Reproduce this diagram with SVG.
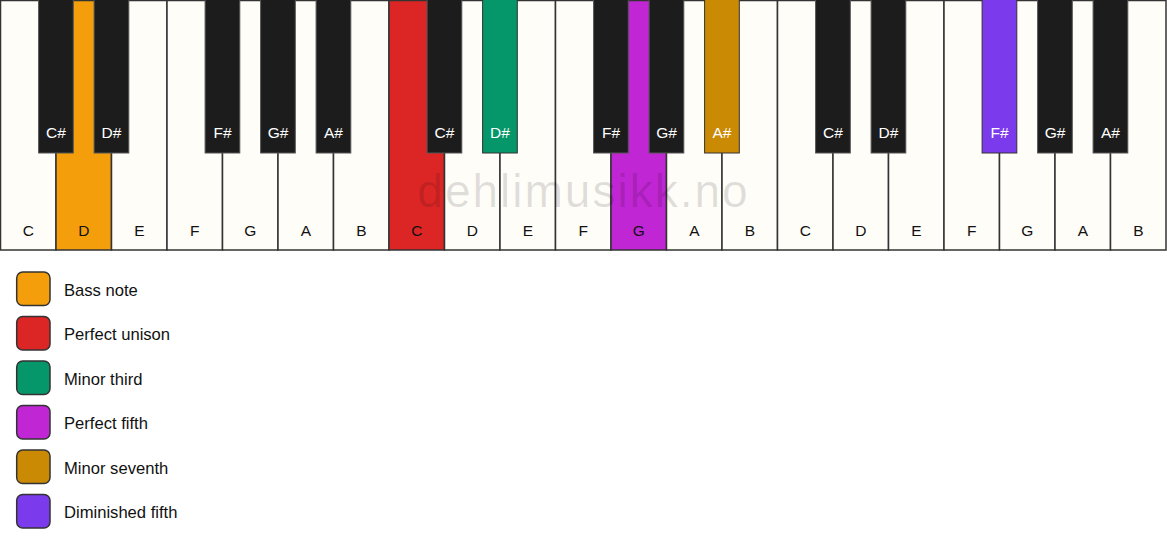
<svg xmlns="http://www.w3.org/2000/svg" width="1167" height="550" viewBox="0 0 1167 550">
<style>
.w{fill:#fffdf8;stroke:#333;stroke-width:1.5}
.b{fill:#1c1c1c;stroke:#555;stroke-width:1}
.wl{font-family:"Liberation Sans",Arial,sans-serif;font-size:15.5px;fill:#111;text-anchor:middle}
.bl{font-family:"Liberation Sans",Arial,sans-serif;font-size:15.5px;fill:#fff;text-anchor:middle}
.lg{stroke:#333;stroke-width:1.5}
.lt{font-family:"Liberation Sans",Arial,sans-serif;font-size:16.6px;fill:#111}
.wm{font-family:"Liberation Sans",Arial,sans-serif;font-size:46px;fill:#000;fill-opacity:0.12;text-anchor:middle;letter-spacing:2px}
</style>
<rect width="1167" height="550" fill="#ffffff"/>
<g id="white-keys">
<g id="w0"><rect class="w" x="0.5" y="0.5" width="55.5" height="249.5"/><text class="wl" x="28.3" y="236">C</text></g>
<g id="w1"><rect class="w" x="56" y="0.5" width="55.5" height="249.5" style="fill:#f59e0b"/><text class="wl" x="83.8" y="236">D</text></g>
<g id="w2"><rect class="w" x="111.5" y="0.5" width="55.5" height="249.5"/><text class="wl" x="139.3" y="236">E</text></g>
<g id="w3"><rect class="w" x="167" y="0.5" width="55.5" height="249.5"/><text class="wl" x="194.8" y="236">F</text></g>
<g id="w4"><rect class="w" x="222.5" y="0.5" width="55.5" height="249.5"/><text class="wl" x="250.3" y="236">G</text></g>
<g id="w5"><rect class="w" x="278" y="0.5" width="55.5" height="249.5"/><text class="wl" x="305.8" y="236">A</text></g>
<g id="w6"><rect class="w" x="333.5" y="0.5" width="55.5" height="249.5"/><text class="wl" x="361.3" y="236">B</text></g>
<g id="w7"><rect class="w" x="389" y="0.5" width="55.5" height="249.5" style="fill:#dc2626"/><text class="wl" x="416.8" y="236">C</text></g>
<g id="w8"><rect class="w" x="444.5" y="0.5" width="55.5" height="249.5"/><text class="wl" x="472.3" y="236">D</text></g>
<g id="w9"><rect class="w" x="500" y="0.5" width="55.5" height="249.5"/><text class="wl" x="527.8" y="236">E</text></g>
<g id="w10"><rect class="w" x="555.5" y="0.5" width="55.5" height="249.5"/><text class="wl" x="583.3" y="236">F</text></g>
<g id="w11"><rect class="w" x="611" y="0.5" width="55.5" height="249.5" style="fill:#c026d3"/><text class="wl" x="638.8" y="236">G</text></g>
<g id="w12"><rect class="w" x="666.5" y="0.5" width="55.5" height="249.5"/><text class="wl" x="694.3" y="236">A</text></g>
<g id="w13"><rect class="w" x="722" y="0.5" width="55.5" height="249.5"/><text class="wl" x="749.8" y="236">B</text></g>
<g id="w14"><rect class="w" x="777.5" y="0.5" width="55.5" height="249.5"/><text class="wl" x="805.3" y="236">C</text></g>
<g id="w15"><rect class="w" x="833" y="0.5" width="55.5" height="249.5"/><text class="wl" x="860.8" y="236">D</text></g>
<g id="w16"><rect class="w" x="888.5" y="0.5" width="55.5" height="249.5"/><text class="wl" x="916.3" y="236">E</text></g>
<g id="w17"><rect class="w" x="944" y="0.5" width="55.5" height="249.5"/><text class="wl" x="971.8" y="236">F</text></g>
<g id="w18"><rect class="w" x="999.5" y="0.5" width="55.5" height="249.5"/><text class="wl" x="1027.3" y="236">G</text></g>
<g id="w19"><rect class="w" x="1055" y="0.5" width="55.5" height="249.5"/><text class="wl" x="1082.8" y="236">A</text></g>
<g id="w20"><rect class="w" x="1110.5" y="0.5" width="55.5" height="249.5"/><text class="wl" x="1138.3" y="236">B</text></g>
</g>
<text class="wm" x="583.5" y="207">dehlimusikk.no</text>
<g id="black-keys">
<g id="b0"><rect class="b" x="38.6" y="-1" width="34.7" height="154"/><text class="bl" x="56" y="138">C#</text></g>
<g id="b1"><rect class="b" x="94.1" y="-1" width="34.7" height="154"/><text class="bl" x="111.5" y="138">D#</text></g>
<g id="b2"><rect class="b" x="205.1" y="-1" width="34.7" height="154"/><text class="bl" x="222.5" y="138">F#</text></g>
<g id="b3"><rect class="b" x="260.6" y="-1" width="34.7" height="154"/><text class="bl" x="278" y="138">G#</text></g>
<g id="b4"><rect class="b" x="316.1" y="-1" width="34.7" height="154"/><text class="bl" x="333.5" y="138">A#</text></g>
<g id="b5"><rect class="b" x="427.1" y="-1" width="34.7" height="154"/><text class="bl" x="444.5" y="138">C#</text></g>
<g id="b6"><rect class="b" x="482.6" y="-1" width="34.7" height="154" style="fill:#059669;stroke:#333"/><text class="bl" x="500" y="138">D#</text></g>
<g id="b7"><rect class="b" x="593.6" y="-1" width="34.7" height="154"/><text class="bl" x="611" y="138">F#</text></g>
<g id="b8"><rect class="b" x="649.1" y="-1" width="34.7" height="154"/><text class="bl" x="666.5" y="138">G#</text></g>
<g id="b9"><rect class="b" x="704.6" y="-1" width="34.7" height="154" style="fill:#ca8a04;stroke:#333"/><text class="bl" x="722" y="138">A#</text></g>
<g id="b10"><rect class="b" x="815.6" y="-1" width="34.7" height="154"/><text class="bl" x="833" y="138">C#</text></g>
<g id="b11"><rect class="b" x="871.1" y="-1" width="34.7" height="154"/><text class="bl" x="888.5" y="138">D#</text></g>
<g id="b12"><rect class="b" x="982.1" y="-1" width="34.7" height="154" style="fill:#7c3aed;stroke:#333"/><text class="bl" x="999.5" y="138">F#</text></g>
<g id="b13"><rect class="b" x="1037.6" y="-1" width="34.7" height="154"/><text class="bl" x="1055" y="138">G#</text></g>
<g id="b14"><rect class="b" x="1093.1" y="-1" width="34.7" height="154"/><text class="bl" x="1110.5" y="138">A#</text></g>
</g>
<g id="legend">
<g id="lg0"><rect class="lg" x="16.7" y="272" width="33.3" height="33.5" rx="6" fill="#f59e0b"/><text class="lt" x="64" y="295.5">Bass note</text></g>
<g id="lg1"><rect class="lg" x="16.7" y="316.5" width="33.3" height="33.5" rx="6" fill="#dc2626"/><text class="lt" x="64" y="340">Perfect unison</text></g>
<g id="lg2"><rect class="lg" x="16.7" y="361" width="33.3" height="33.5" rx="6" fill="#059669"/><text class="lt" x="64" y="384.5">Minor third</text></g>
<g id="lg3"><rect class="lg" x="16.7" y="405.5" width="33.3" height="33.5" rx="6" fill="#c026d3"/><text class="lt" x="64" y="429">Perfect fifth</text></g>
<g id="lg4"><rect class="lg" x="16.7" y="450" width="33.3" height="33.5" rx="6" fill="#ca8a04"/><text class="lt" x="64" y="473.5">Minor seventh</text></g>
<g id="lg5"><rect class="lg" x="16.7" y="494.5" width="33.3" height="33.5" rx="6" fill="#7c3aed"/><text class="lt" x="64" y="518">Diminished fifth</text></g>
</g>
</svg>
